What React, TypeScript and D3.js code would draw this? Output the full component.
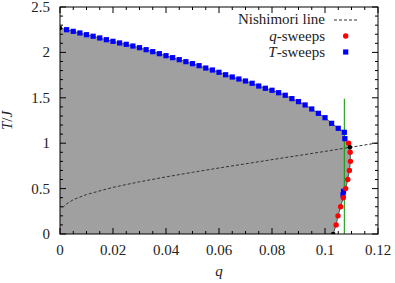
import React from "react";
import * as d3 from "d3";

const W = 395, H = 283;
const M = { left: 60, right: 378, top: 7, bottom: 234 };

const xTicks = [0, 0.02, 0.04, 0.06, 0.08, 0.1, 0.12];
const xTickLabels = ["0", "0.02", "0.04", "0.06", "0.08", "0.1", "0.12"];
const yTicks = [0, 0.5, 1, 1.5, 2, 2.5];
const yTickLabels = ["0", "0.5", "1", "1.5", "2", "2.5"];

// T-sweeps (blue squares)
const tSweepQ = [
  0.0025, 0.005, 0.0075, 0.01, 0.0125, 0.015, 0.0175, 0.02, 0.0225, 0.025,
  0.0275, 0.03, 0.0325, 0.035, 0.0375, 0.04, 0.0425, 0.045, 0.0475, 0.05,
  0.0525, 0.055, 0.0575, 0.06, 0.0625, 0.065, 0.0675, 0.07, 0.0725, 0.075,
  0.0775, 0.08, 0.0825, 0.085, 0.0875, 0.09, 0.0925, 0.095, 0.0975, 0.1,
  0.1025, 0.105, 0.1073, 0.1075,
];
const tSweepT = [
  2.25, 2.232, 2.214, 2.195, 2.178, 2.159, 2.14, 2.122, 2.104, 2.089,
  2.07, 2.052, 2.03, 2.008, 1.986, 1.964, 1.942, 1.92, 1.898, 1.876,
  1.854, 1.828, 1.806, 1.781, 1.754, 1.729, 1.707, 1.685, 1.66, 1.63,
  1.605, 1.583, 1.556, 1.528, 1.491, 1.458, 1.421, 1.377, 1.329, 1.281,
  1.219, 1.164, 1.12, 1.05,
];
const tSweepLowQ = [0.1068, 0.107];
const tSweepLowT = [0.43, 0.47];

// q-sweeps (red circles)
const qSweepT = [1.0, 0.9, 0.8, 0.7, 0.6, 0.5, 0.4, 0.3, 0.2, 0.1];
const qSweepQ = [0.1089, 0.1095, 0.1096, 0.1092, 0.1086, 0.1078, 0.1069, 0.1059, 0.1049, 0.1042];

// black points
const blackQ = [0, 0.1094, 0.1031];
const blackT = [2.269, 0.955, 0];

// Nishimori line
const nishQ = [0.001, 0.002, 0.005, 0.01, 0.02, 0.03, 0.04, 0.05, 0.06, 0.07, 0.08, 0.09, 0.1, 0.11, 0.12];
const nishT = [0.29, 0.322, 0.378, 0.435, 0.514, 0.575, 0.629, 0.679, 0.727, 0.773, 0.819, 0.864, 0.91, 0.957, 1.004];

// green vertical line
const greenQ = 0.1073;
const greenT = [0, 1.49];

export default function App() {
  const x = d3.scaleLinear().domain([0, 0.12]).range([M.left, M.right]);
  const y = d3.scaleLinear().domain([0, 2.5]).range([M.bottom, M.top]);

  const boundary: [number, number][] = [];
  boundary.push([blackQ[0], blackT[0]]);
  tSweepQ.forEach((q, i) => boundary.push([q, tSweepT[i]]));
  boundary.push([qSweepQ[0], qSweepT[0]]);
  boundary.push([blackQ[1], blackT[1]]);
  for (let i = 1; i < qSweepQ.length; i++) boundary.push([qSweepQ[i], qSweepT[i]]);
  boundary.push([blackQ[2], blackT[2]]);

  const line = d3.line<[number, number]>().x((d) => x(d[0])).y((d) => y(d[1]));
  const area = [[0, 0] as [number, number], ...boundary];
  const fillPath = line(area) + "Z";

  const xMinor = d3.range(0, 0.1201, 0.005);
  const yMinor = d3.range(0, 2.501, 0.1);
  const font = "'Times New Roman', 'Liberation Serif', Tinos, 'DejaVu Serif', 'Noto Serif', FreeSerif, Times, serif";
  const fs = 15;
  const ts = { fontFamily: font };

  const nish = nishQ.map((q, i) => [q, nishT[i]] as [number, number]);

  return (
    <svg width={W} height={H} style={{ position: "absolute", left: 0, top: 0, background: "#fff", fontFamily: font }}>
      <defs>
        <clipPath id="plot">
          <rect x={M.left} y={M.top} width={M.right - M.left} height={M.bottom - M.top} />
        </clipPath>
      </defs>
      <g clipPath="url(#plot)">
        <path d={fillPath} fill="#a0a0a0" stroke="none" />
        <path d={line(boundary) || ""} fill="none" stroke="#333" strokeWidth={0.8} />
        <path d={line(nish) || ""} fill="none" stroke="#333" strokeWidth={1} strokeDasharray="3,2" />
        <line x1={x(greenQ)} x2={x(greenQ)} y1={y(greenT[0])} y2={y(greenT[1])} stroke="#1a9a1a" strokeWidth={1.1} />
        {tSweepQ.map((q, i) => (
          <rect key={"b" + i} x={x(q) - 2.6} y={y(tSweepT[i]) - 2.6} width={5.2} height={5.2} fill="#0000ff" />
        ))}
        {tSweepLowQ.map((q, i) => (
          <rect key={"bl" + i} x={x(q) - 2.6} y={y(tSweepLowT[i]) - 2.6} width={5.2} height={5.2} fill="#0000ff" />
        ))}
        {qSweepQ.map((q, i) => (
          <circle key={"r" + i} cx={x(q)} cy={y(qSweepT[i])} r={2.7} fill="#ff0000" />
        ))}
        {blackQ.map((q, i) => (
          <circle key={"k" + i} cx={x(q)} cy={y(blackT[i])} r={2.3} fill="#000" />
        ))}
      </g>
      <rect x={M.left} y={M.top} width={M.right - M.left} height={M.bottom - M.top} fill="none" stroke="#000" strokeWidth={1} />
      {xMinor.map((t, i) => {
        const major = i % 4 === 0;
        const L = major ? 6 : 3;
        return (
          <g key={"xt" + i} stroke="#000" strokeWidth={1}>
            <line x1={x(t)} x2={x(t)} y1={M.bottom} y2={M.bottom - L} />
            <line x1={x(t)} x2={x(t)} y1={M.top} y2={M.top + L} />
          </g>
        );
      })}
      {yMinor.map((t, i) => {
        const major = i % 5 === 0;
        const L = major ? 6 : 3;
        return (
          <g key={"yt" + i} stroke="#000" strokeWidth={1}>
            <line x1={M.left} x2={M.left + L} y1={y(t)} y2={y(t)} />
            <line x1={M.right} x2={M.right - L} y1={y(t)} y2={y(t)} />
          </g>
        );
      })}
      {xTicks.map((t, i) => (
        <text key={"xl" + i} style={ts} x={x(t)} y={255} textAnchor="middle" fontSize={fs} fill="#222">{xTickLabels[i]}</text>
      ))}
      {yTicks.map((t, i) => (
        <text key={"yl" + i} style={ts} x={50} y={y(t) + 5} textAnchor="end" fontSize={fs} fill="#222">{yTickLabels[i]}</text>
      ))}
      <text style={ts} x={(M.left + M.right) / 2} y={276} textAnchor="middle" fontSize={fs} fontStyle="italic" fill="#222">q</text>
      <text style={ts} transform={`translate(12, ${(M.top + M.bottom) / 2}) rotate(-90)`} textAnchor="middle" fontSize={fs} fill="#222">
        <tspan fontStyle="italic">T</tspan>/<tspan fontStyle="italic">J</tspan>
      </text>
      <text style={ts} x={325} y={24} textAnchor="end" fontSize={fs} fill="#222">Nishimori line</text>
      <line x1={334} x2={359} y1={20} y2={20} stroke="#333" strokeWidth={1} strokeDasharray="3,2" />
      <text style={ts} x={325} y={41} textAnchor="end" fontSize={fs} fill="#222"><tspan fontStyle="italic">q</tspan>-sweeps</text>
      <circle cx={345.7} cy={36} r={2.7} fill="#ff0000" />
      <text style={ts} x={325} y={57} textAnchor="end" fontSize={fs} fill="#222"><tspan fontStyle="italic">T</tspan>-sweeps</text>
      <rect x={345.7 - 2.6} y={52 - 2.6} width={5.2} height={5.2} fill="#0000ff" />
    </svg>
  );
}
